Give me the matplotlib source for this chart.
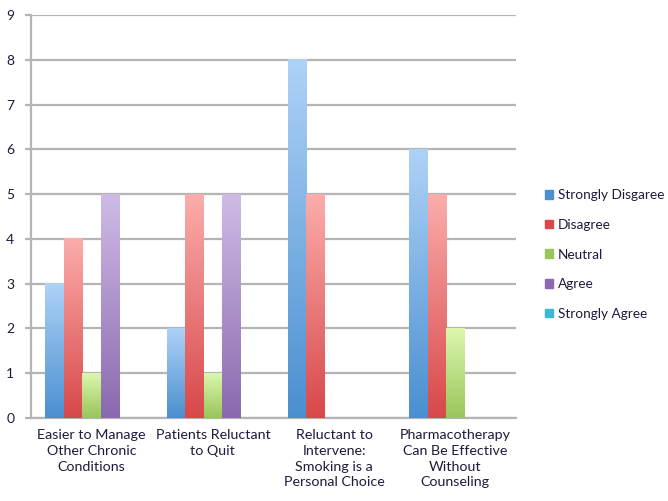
import matplotlib.pyplot as plt
import matplotlib.colors as mcolors
import numpy as np

plt.rcParams['font.family'] = ['Lato', 'DejaVu Sans']

categories = ['Easier to Manage\nOther Chronic\nConditions',
              'Patients Reluctant\nto Quit',
              'Reluctant to\nIntervene:\nSmoking is a\nPersonal Choice',
              'Pharmacotherapy\nCan Be Effective\nWithout\nCounseling']
series = ['Strongly Disgaree', 'Disagree', 'Neutral', 'Agree', 'Strongly Agree']
strongly_disagree = [3, 2, 8, 6]
disagree = [4, 5, 5, 5]
neutral = [1, 1, 0, 2]
agree = [5, 5, 0, 0]
strongly_agree = [0, 0, 0, 0]
values = [strongly_disagree, disagree, neutral, agree, strongly_agree]

# (top colour, bottom colour) for the gradient fills
grads = [('#aed2f7', '#4a8fd0'),
         ('#fbadab', '#d8484a'),
         ('#dcf7ae', '#99c55a'),
         ('#cfbbe6', '#8a69ae'),
         ('#9fe6f5', '#3bb8d6')]
text_col = '#1c1c3c'

fig = plt.figure(figsize=(6.68, 5.01), dpi=100)
ax = fig.add_axes([0.0464, 0.1657, 0.7261, 0.8043])

n = len(series)
gap = 0.235
width = (1 - gap) / n
x = np.arange(len(categories))

# vertical ramp: top row light, bottom row dark
ramp = np.linspace(1, 0, 256).reshape(-1, 1)
handles = []
for i, (name, vals) in enumerate(zip(series, values)):
    cmap = mcolors.LinearSegmentedColormap.from_list(name, [grads[i][1], grads[i][0]])
    xs = x - 0.5 + gap / 2 + i * width
    bars = ax.bar(xs, vals, width=width, align='edge', color='none', linewidth=0, zorder=3)
    for b in bars:
        h = b.get_height()
        if h <= 0:
            continue
        bx = b.get_x()
        ax.imshow(ramp, cmap=cmap, vmin=0, vmax=1, aspect='auto',
                  extent=[bx, bx + width, 0, h], zorder=3, origin='upper')
    handles.append(plt.Rectangle((0, 0), 1, 1, color=grads[i][1]))

ax.set_xlim(-0.5, len(categories) - 0.5)
ax.set_ylim(0, 9)
ax.set_yticks(range(10))
ax.yaxis.grid(True, color='#b4b4b4', linewidth=1.6, zorder=0)
ax.set_axisbelow(True)
for s in ['top', 'right']:
    ax.spines[s].set_visible(False)
for s in ['left', 'bottom']:
    ax.spines[s].set_color('#b4b4b4')
    ax.spines[s].set_linewidth(1.6)
ax.tick_params(axis='y', length=4, width=1.6, color='#b4b4b4', labelsize=10,
               labelcolor=text_col, pad=8)
ax.set_xticks(x)
ax.set_xticklabels(categories, fontsize=10.3, color=text_col, linespacing=1.38)
ax.tick_params(axis='x', length=0, pad=8)

fig.legend(handles, series, loc='center left', bbox_to_anchor=(0.798, 0.492),
           frameon=False, fontsize=9.8, handlelength=0.6, handleheight=0.6,
           handletextpad=0.3, labelspacing=1.3, labelcolor=text_col)

fig.savefig('out.png', dpi=100)
